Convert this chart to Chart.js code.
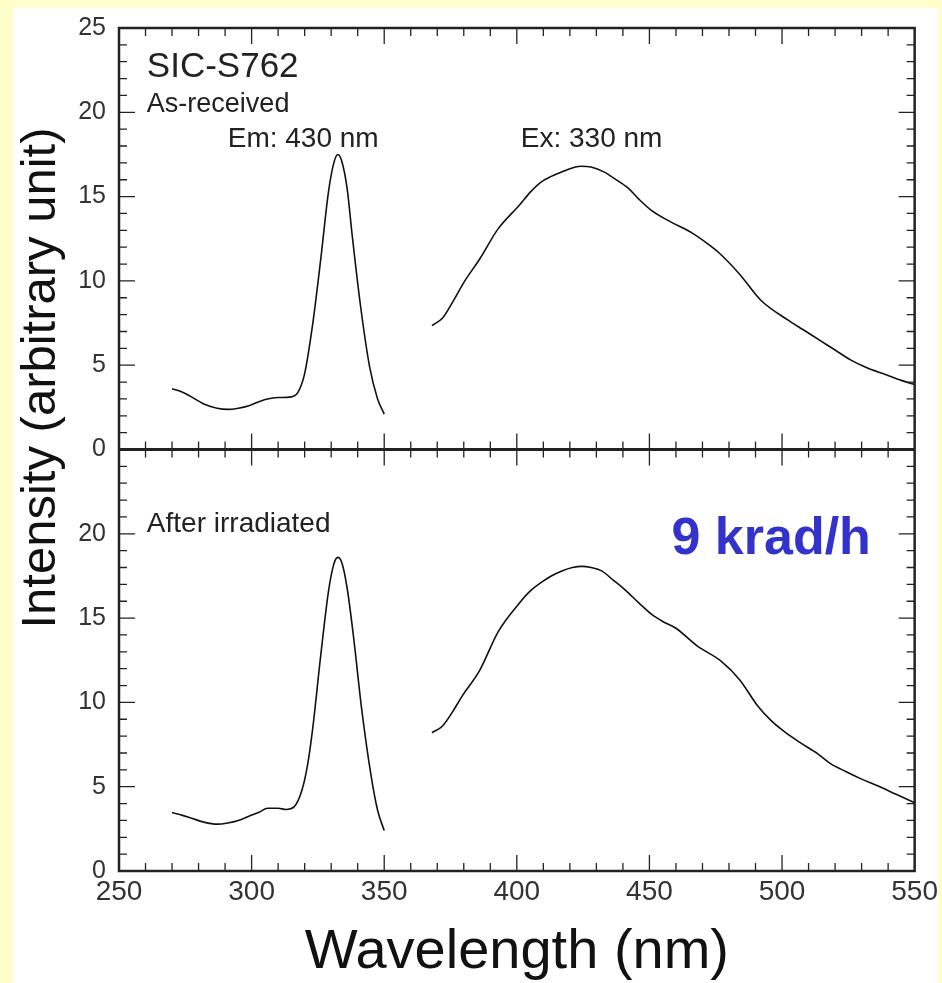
<!DOCTYPE html>
<html>
<head>
<meta charset="utf-8">
<script src="https://cdn.jsdelivr.net/npm/chart.js@4.4.1/dist/chart.umd.min.js"></script>
<style>
  html, body { margin: 0; padding: 0; background: #FFFFCC; }
  body { width: 942px; height: 983px; position: relative; overflow: hidden; }
  #paper { position: absolute; left: 13px; top: 8px; width: 925px; height: 975px; background: #fff; }
  #chart { position: absolute; left: 0; top: 0; }
</style>
</head>
<body>
<div id="paper"></div>
<canvas id="chart" width="942" height="983"></canvas>
<script>
const FONT = "'Liberation Sans', Arial, Helvetica, sans-serif";
const INK  = '#222';
const TICK_TEXT = '#333';

// x axis
const X_MIN = 250, X_MAX = 550;
const X_LABEL_STEP = 50;
// y axis (each panel)
const Y_MIN = 0, Y_MAX = 25;
const Y_LABEL_STEP = 5;

// As-received: emission-monitored excitation band (Em: 430 nm)
const emWaveTop = [270, 274, 277, 282, 287, 291, 295, 299, 303, 306, 310, 315, 317.5, 320, 323, 326, 329, 331, 332.5, 334, 336, 338, 341, 344.5, 347.5, 350];
const emValTop  = [3.6, 3.4, 3.15, 2.7, 2.45, 2.38, 2.45, 2.6, 2.85, 3.0, 3.08, 3.12, 3.4, 4.5, 7.4, 11.2, 15.3, 17.0, 17.5, 17.1, 15.5, 12.6, 8.6, 4.9, 3.0, 2.1];

// As-received: emission band (Ex: 330 nm)
const exWaveTop = [368, 372, 376, 380, 386, 393, 401, 405, 409, 413, 416, 420, 424, 428, 433, 437, 442, 446, 451, 458, 466, 472, 476, 484, 492, 502, 508, 514, 520, 526, 532, 539, 545, 550];
const exValTop  = [7.35, 7.8, 8.8, 9.9, 11.3, 13.1, 14.5, 15.25, 15.85, 16.2, 16.4, 16.65, 16.8, 16.75, 16.45, 16.05, 15.5, 14.85, 14.15, 13.5, 12.85, 12.2, 11.7, 10.4, 8.85, 7.7, 7.1, 6.5, 5.9, 5.3, 4.85, 4.45, 4.1, 3.85];

// After irradiated
const emWaveBot = [270, 274, 277, 282, 287, 291, 295, 299, 303, 306, 310, 313, 316, 319, 321, 323, 326, 329, 331, 332.5, 334, 336, 338.5, 341.5, 345, 347.5, 350];
const emValBot  = [3.47, 3.3, 3.15, 2.9, 2.78, 2.85, 3.0, 3.25, 3.5, 3.72, 3.72, 3.65, 3.8, 4.8, 6.2, 8.4, 12.7, 16.6, 18.2, 18.6, 18.3, 16.8, 13.8, 9.6, 5.7, 3.6, 2.4];

const exWaveBot = [368, 372, 376, 379.5, 386, 393, 401, 405, 409.5, 413, 417, 421, 424.5, 428, 432, 436, 441, 446, 451, 455, 460, 468, 477, 484, 491, 496, 501, 507, 513.5, 518, 524, 530, 536, 543, 550];
const exValBot  = [8.2, 8.6, 9.5, 10.4, 11.9, 14.2, 15.9, 16.6, 17.15, 17.5, 17.8, 18.0, 18.07, 18.0, 17.8, 17.3, 16.65, 15.9, 15.2, 14.8, 14.4, 13.35, 12.45, 11.35, 9.75, 8.9, 8.25, 7.6, 6.95, 6.4, 5.9, 5.45, 5.05, 4.55, 4.05];

const toPoints = (xs, ys) => xs.map((x, i) => ({ x, y: ys[i] }));

const curve = (data, yAxisID) => ({
  data, yAxisID, xAxisID: 'x',
  borderColor: '#111', borderWidth: 1.6,
  pointRadius: 0, cubicInterpolationMode: 'monotone', fill: false
});

// text drawn inside the panels, anchored in data coordinates
const NOTES = [
  { axis: 'yTop', x: 260.5, y: 22.1, text: 'SIC-S762',         font: `35px ${FONT}`,       color: INK },
  { axis: 'yTop', x: 260.5, y: 20.0, text: 'As-received',      font: `27px ${FONT}`,       color: INK },
  { axis: 'yTop', x: 291,   y: 17.95, text: 'Em: 430 nm',      font: `28px ${FONT}`,       color: INK },
  { axis: 'yTop', x: 401.5, y: 17.95, text: 'Ex: 330 nm',      font: `28px ${FONT}`,       color: INK },
  { axis: 'yBot', x: 260.5, y: 20.1, text: 'After irradiated', font: `28px ${FONT}`,       color: INK },
  { axis: 'yBot', x: 458.3, y: 18.8, text: '9 krad/h',         font: `bold 52px ${FONT}`,  color: '#3333CC' }
];

const frameTicks = {
  id: 'frameTicks',
  afterDatasetsDraw(chart) {
    const { ctx, chartArea: a, scales } = chart;
    const sx = scales.x, top = scales.yTop, bot = scales.yBot;
    const yMid = top.getPixelForValue(0);
    const MINOR = 8, MAJOR = 16;
    ctx.save();
    ctx.strokeStyle = INK;
    ctx.lineWidth = 1.3;
    ctx.beginPath();
    for (let v = X_MIN + 10; v < X_MAX; v += 10) {
      const px = sx.getPixelForValue(v);
      const len = v % 50 === 0 ? MAJOR : MINOR;
      ctx.moveTo(px, a.top); ctx.lineTo(px, a.top + len);
      ctx.moveTo(px, a.bottom); ctx.lineTo(px, a.bottom - len);
      ctx.moveTo(px, yMid - len); ctx.lineTo(px, yMid + len);
    }
    [top, bot].forEach(s => {
      for (let v = Y_MIN + 1; v < Y_MAX; v++) {
        const py = s.getPixelForValue(v);
        const len = v % 5 === 0 ? MAJOR : MINOR;
        ctx.moveTo(a.left, py); ctx.lineTo(a.left + len, py);
        ctx.moveTo(a.right, py); ctx.lineTo(a.right - len, py);
      }
    });
    ctx.stroke();

    ctx.lineWidth = 2.5;
    ctx.strokeRect(a.left, a.top, a.right - a.left, a.bottom - a.top);
    ctx.lineWidth = 3;
    ctx.beginPath();
    ctx.moveTo(a.left, yMid); ctx.lineTo(a.right, yMid);
    ctx.stroke();

    ctx.textAlign = 'left';
    ctx.textBaseline = 'alphabetic';
    NOTES.forEach(n => {
      ctx.font = n.font;
      ctx.fillStyle = n.color;
      ctx.fillText(n.text, sx.getPixelForValue(n.x), scales[n.axis].getPixelForValue(n.y));
    });

    // shared y title spanning both panels
    ctx.font = `49px ${FONT}`;
    ctx.fillStyle = '#111';
    ctx.textAlign = 'center';
    ctx.translate(55, 378);
    ctx.rotate(-Math.PI / 2);
    ctx.fillText('Intensity (arbitrary unit)', 0, 0);
    ctx.restore();
  }
};

const yAxis = (hideTop) => ({
  type: 'linear', position: 'left', stack: 'panels', stackWeight: 1,
  min: Y_MIN, max: Y_MAX,
  afterFit: s => { s.width = 119; },
  grid: { display: false, drawTicks: false },
  border: { display: false },
  ticks: {
    stepSize: Y_LABEL_STEP, padding: 13, color: TICK_TEXT,
    font: { family: FONT, size: 25 },
    callback: v => (hideTop && v === Y_MAX) ? '' : v
  }
});

new Chart(document.getElementById('chart'), {
  type: 'line',
  data: {
    datasets: [
      curve(toPoints(emWaveTop, emValTop), 'yTop'),
      curve(toPoints(exWaveTop, exValTop), 'yTop'),
      curve(toPoints(emWaveBot, emValBot), 'yBot'),
      curve(toPoints(exWaveBot, exValBot), 'yBot')
    ]
  },
  options: {
    responsive: false,
    animation: false,
    layout: { padding: { top: 18, right: 25, bottom: 0, left: 0 } },
    plugins: { legend: { display: false }, tooltip: { enabled: false } },
    scales: {
      x: {
        type: 'linear', position: 'bottom', min: X_MIN, max: X_MAX,
        afterFit: s => { s.height = 112; },
        grid: { display: false, drawTicks: false },
        border: { display: false },
        ticks: { stepSize: X_LABEL_STEP, padding: 4, color: TICK_TEXT, maxRotation: 0, autoSkip: false,
                 font: { family: FONT, size: 28 } },
        title: { display: true, text: 'Wavelength (nm)', color: '#111', padding: 0,
                 font: { family: FONT, size: 56, lineHeight: 1.1 } }
      },
      yBot: yAxis(true),
      yTop: yAxis(false)
    }
  },
  plugins: [frameTicks]
});
</script>
</body>
</html>
